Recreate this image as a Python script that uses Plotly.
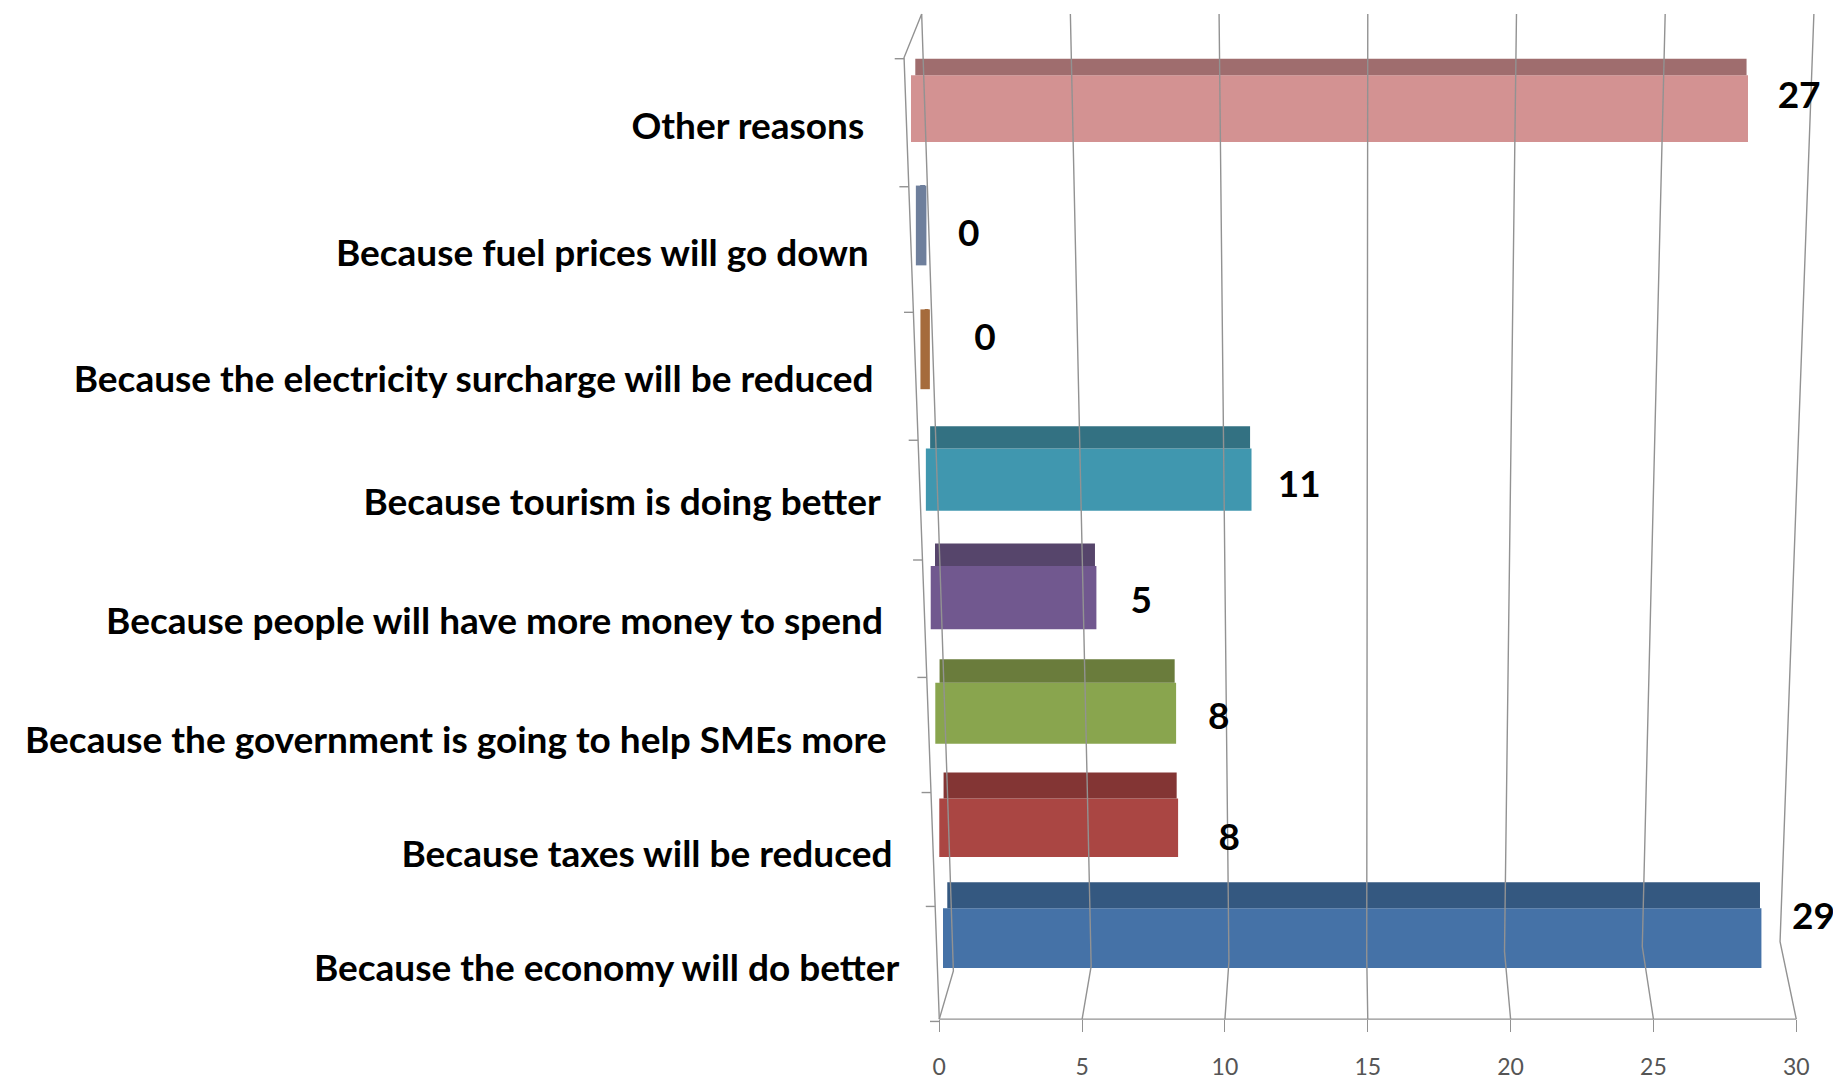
import plotly.graph_objects as go

# ---------- data (bottom to top) ----------
categories = [
    "Because the economy will do better",
    "Because taxes will be reduced",
    "Because the government is going to help SMEs more",
    "Because people will have more money to spend",
    "Because tourism is doing better",
    "Because the electricity surcharge will be reduced",
    "Because fuel prices will go down",
    "Other reasons",
]
value_labels = [29, 8, 8, 5, 11, 0, 0, 27]
# bar lengths as drawn in the picture, read on the bottom axis scale
drawn_lengths = [28.65, 8.36, 8.43, 5.8, 11.4, 0.33, 0.37, 29.3]
tick_values = [0, 5, 10, 15, 20, 25, 30]

# ---------- styling / perspective layout ----------
front_colors = ["#4572A7", "#AA4643", "#89A54E", "#71588F", "#4097AF", "#A56B3C", "#6E7F9C", "#D39292"]
top_colors = ["#345880", "#833534", "#6A7C3C", "#56456B", "#337182", "#A56B3C", "#6E7F9C", "#9F6D6E"]
slot_pos = [0, 1, 2.027, 3.069, 4.138, 5.218, 6.34, 7.473]
slot_height = [0.777, 0.766, 0.766, 0.777, 0.766, 0.723, 0.723, 0.755]
band_height = [0.234, 0.234, 0.213, 0.202, 0.202, 0, 0, 0.149]
base_shift = [0.13, 0.0, -0.14, -0.30, -0.47, -0.66, -0.82, -0.99]
label_x = [-1.40, -1.64, -1.85, -1.97, -2.05, -2.30, -2.47, -2.63]
label_s = [-0.424, 0.608, 1.64, 2.725, 3.80, 4.917, 6.055, 7.204]
value_x = [30.6, 10.15, 9.78, 7.07, 12.6, 1.6, 1.03, 30.1]
value_s = [0.045, 0.769, 1.865, 2.917, 3.96, 5.30, 6.24, 7.49]
left_ticks_s = [-0.872, 0.17, 1.202, 2.245, 3.309, 4.394, 5.553, 6.691, 7.851]

TEXT_FONT = dict(family="Lato", size=37, color="#000000")
GRID = "#929292"
UNIT_X = 24.33   # image pixels per x unit (shrunk image)
UNIT_Y = 94.0
PAGE_MARGIN = 8  # default body margin of the page, in full-size pixels
SCALE = 1841 / 1568


def dx(px):
    return (px - 800) / UNIT_X


def dy(py):
    return (788 - py) / UNIT_Y


fig = go.Figure()


def line(xs, ys, color=GRID, width=1.4):
    fig.add_trace(go.Scatter(x=xs, y=ys, mode="lines", hoverinfo="skip",
                             line=dict(color=color, width=width)))


# walls: three-point gridlines (front floor edge, back floor edge, top of back wall)
for v in tick_values:
    line([v, dx(812 + 23.47 * v), dx(785 + 25.33 * v)],
         [dy(868), dy(827 - 0.833 * v), dy(12)])
line([dx(800), dx(770), dx(785)], [dy(868), dy(49), dy(12)])
line([0, 30], [dy(868), dy(868)])
for s in left_ticks_s:
    x_left = dx(770 + 30 * (788 - UNIT_Y * s - 49) / 819)
    line([x_left, x_left - 8 / UNIT_X], [s, s])

# front faces
fig.add_trace(go.Bar(
    orientation="h",
    y=[p - b / 2 for p, b in zip(slot_pos, band_height)],
    x=drawn_lengths,
    base=base_shift,
    width=[h - b for h, b in zip(slot_height, band_height)],
    marker=dict(color=front_colors, line=dict(width=0)),
    hovertext=categories,
))
# top faces
fig.add_trace(go.Bar(
    orientation="h",
    y=[p + h / 2 - b / 2 for p, h, b in zip(slot_pos, slot_height, band_height)],
    x=[l - 0.2 for l in drawn_lengths],
    base=[b + 0.15 for b in base_shift],
    width=band_height,
    marker=dict(color=top_colors, line=dict(width=0)),
    hovertext=categories,
))

# value labels
fig.add_trace(go.Scatter(
    x=value_x, y=value_s, mode="text",
    text=[str(v) for v in value_labels],
    textposition="middle center",
    textfont=dict(family="Lato", size=37, color="#000000", weight="bold"),
    cliponaxis=False, hoverinfo="skip",
))
# category labels
fig.add_trace(go.Scatter(
    x=label_x, y=label_s, mode="text",
    text=categories,
    textposition="middle left",
    textfont=dict(weight="bold", **TEXT_FONT),
    cliponaxis=False, hoverinfo="skip",
))

W, H = 1841 - PAGE_MARGIN, 1081 - PAGE_MARGIN
fig.update_layout(
    width=W, height=H,
    margin=dict(l=0, r=0, t=0, b=0),
    paper_bgcolor="white", plot_bgcolor="white",
    showlegend=False, barmode="overlay",
    xaxis=dict(
        range=[dx(PAGE_MARGIN / SCALE), dx(1568)], domain=[0, 1],
        anchor="free", position=1 - (1019 - PAGE_MARGIN) / H,
        tickmode="array", tickvals=tick_values,
        ticks="outside", ticklen=12, tickcolor=GRID, tickwidth=1.4,
        ticklabelstandoff=15,
        tickfont=dict(family="Lato", size=23, color="#555555"),
        showgrid=False, zeroline=False, showline=False,
        automargin=False,
    ),
    yaxis=dict(range=[dy(1081 / SCALE), dy(PAGE_MARGIN / SCALE)], domain=[0, 1], visible=False),
)
fig.write_html("out.html")
